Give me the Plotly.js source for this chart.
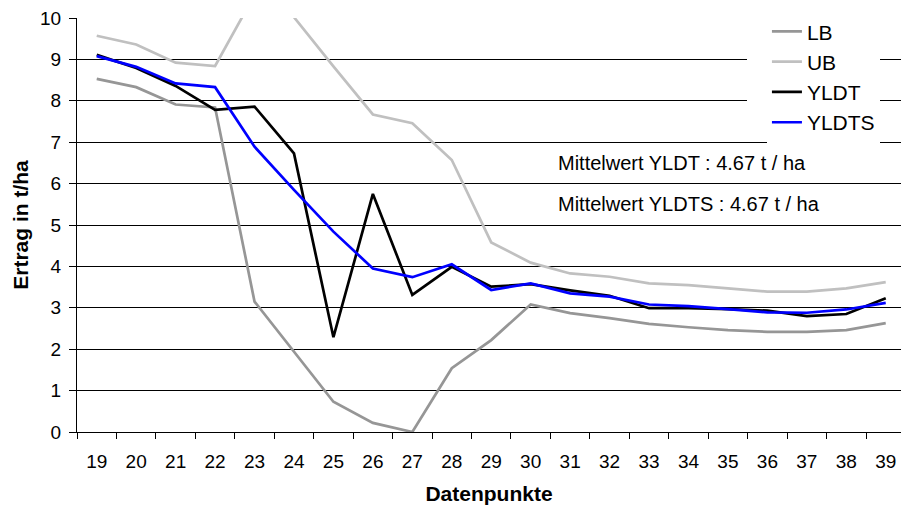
<!DOCTYPE html>
<html>
<head>
<meta charset="utf-8">
<script src="https://cdn.plot.ly/plotly-3.0.1.min.js"></script>
<style>html,body{margin:0;padding:0;background:#fff}#chart{width:901px;height:508px}</style>
</head>
<body>
<div id="chart"></div>
<script>
const categories = ["19","20","21","22","23","24","25","26","27","28","29","30","31","32","33","34","35","36","37","38","39"];
const LB    = [8.53, 8.33, 7.91, 7.84, 3.15, 1.94, 0.73, 0.22, 0.00, 1.54, 2.22, 3.08, 2.87, 2.75, 2.61, 2.53, 2.46, 2.42, 2.42, 2.46, 2.63];
const UB    = [9.57, 9.36, 8.92, 8.84, 10.56, 10.02, 8.83, 7.67, 7.46, 6.57, 4.58, 4.09, 3.83, 3.75, 3.59, 3.55, 3.47, 3.39, 3.39, 3.47, 3.62];
const YLDT  = [9.11, 8.79, 8.36, 7.78, 7.86, 6.73, 2.29, 5.75, 3.31, 3.99, 3.51, 3.57, 3.42, 3.29, 2.99, 2.99, 2.97, 2.93, 2.80, 2.85, 3.23];
const YLDTS = [9.08, 8.82, 8.42, 8.33, 6.89, 5.85, 4.84, 3.95, 3.74, 4.05, 3.43, 3.59, 3.35, 3.27, 3.08, 3.04, 2.97, 2.89, 2.88, 2.96, 3.12];
const seriesNames = ["LB", "UB", "YLDT", "YLDTS"];
const notes = ["Mittelwert YLDT : 4.67 t / ha", "Mittelwert YLDTS : 4.67 t / ha"];
const xTitle = "Datenpunkte";
const yTitle = "Ertrag in t/ha";

const FONT = "Liberation Sans, Arial, sans-serif";
const colors = ["#969696", "#c0c0c0", "#000000", "#0000ff"];
const values = [LB, UB, YLDT, YLDTS];

const traces = values.map((v, i) => ({
  type: "scatter", mode: "lines", x: categories, y: v, name: seriesNames[i],
  line: {color: colors[i], width: 2.7}, hoverinfo: "skip"
}));

const layout = {
  width: 901, height: 508,
  margin: {l: 77, r: 0, t: 18, b: 76},
  paper_bgcolor: "#fff", plot_bgcolor: "#fff",
  font: {family: FONT, size: 19, color: "#000"},
  xaxis: {
    type: "category", range: [-0.5, 20.387],
    tickson: "boundaries", ticks: "outside", ticklen: 6, tickcolor: "#000", tickwidth: 1,
    showline: true, linecolor: "#000", linewidth: 1, showgrid: false, zeroline: false,
    tickfont: {size: 19}, ticklabelstandoff: 12,
    title: {text: xTitle, font: {size: 21, weight: "bold"}, standoff: 15}
  },
  yaxis: {
    range: [0, 10], dtick: 1, tick0: 0,
    ticks: "outside", ticklen: 7, tickcolor: "#000",
    showline: true, linecolor: "#000", linewidth: 1,
    showgrid: true, gridcolor: "#000", gridwidth: 1, zeroline: false,
    tickfont: {size: 19}, ticklabelstandoff: 4,
    title: {text: yTitle, font: {size: 21, weight: "bold"}, standoff: 5}
  },
  legend: {
    x: 0.8373, xanchor: "left", y: 1.0164, yanchor: "top",
    bgcolor: "#fff", borderwidth: 0, font: {size: 21}
  },
  shapes: [{
    type: "rect", xref: "paper", yref: "paper", layer: "above",
    x0: 0.8131, x1: 0.86, y0: 0.7536, y1: 1.04,
    fillcolor: "#fff", line: {width: 0}
  }],
  annotations: notes.map((t, i) => ({
    xref: "paper", yref: "y", x: 0.5813, y: i === 0 ? 6.5 : 5.5,
    xanchor: "left", yanchor: "middle", showarrow: false,
    text: t, font: {size: 20}
  }))
};

Plotly.newPlot("chart", traces, layout, {staticPlot: true, displayModeBar: false});
</script>
</body>
</html>
